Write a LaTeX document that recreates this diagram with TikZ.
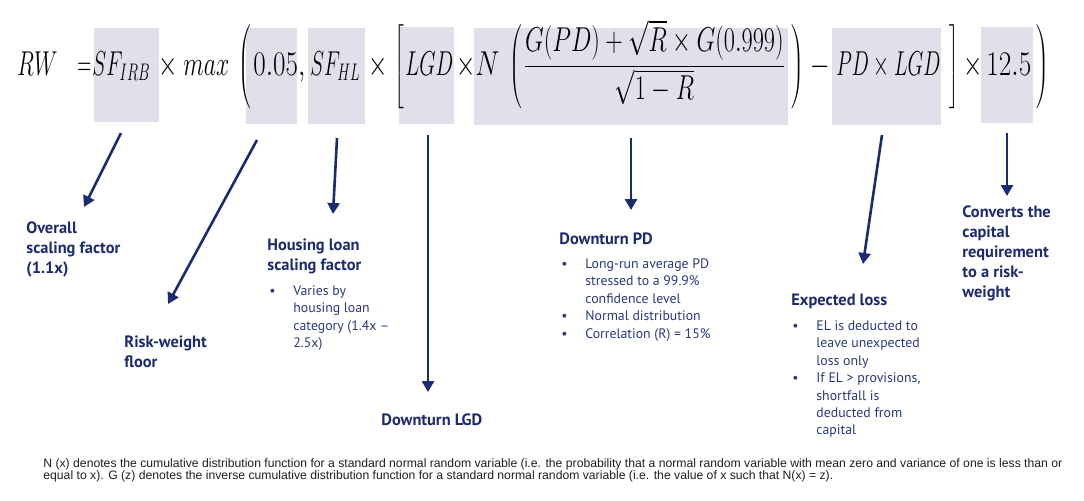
\documentclass[tikz,border=0pt]{standalone}
\usepackage{graphicx}
\usepackage{fontspec}
\newfontfamily\dinfont{PT Sans}
\newfontfamily\notefont{Liberation Sans}
\usetikzlibrary{arrows.meta}
\definecolor{navy}{RGB}{28,42,112}
\definecolor{bodyblue}{RGB}{42,56,128}
\definecolor{hlgrey}{RGB}{224,224,235}
\definecolor{notegrey}{RGB}{30,30,30}
\delimiterfactor=1000
\delimitershortfall=0pt
\newcommand{\fm}[1]{\scalebox{0.72}[1]{$\displaystyle #1$}}
\newcommand{\fmw}[2]{\resizebox{#1}{\height}{$\displaystyle #2$}}
\newcommand{\tallfence}[2]{\left#1\vcenter{\hbox{\rule{0pt}{37pt}}}\right#2}
\tikzset{
  term/.style={anchor=base west, inner sep=0pt, font=\fontsize{17.28}{20}\selectfont},
  head/.style={anchor=north west, inner sep=0pt, text=navy, font=\dinfont\bfseries\fontsize{8.2}{10}\selectfont},
  pts/.style={anchor=north west, inner sep=0pt, text=bodyblue, font=\dinfont\fontsize{6.9}{8.7}\selectfont},
  pointer/.style={draw=navy, line width=1.3pt, -{Triangle[length=5.5pt,width=6pt]}},
  hl/.style={fill=hlgrey}
}
\begin{document}
\begin{tikzpicture}[x=0.5pt,y=-0.5pt]
\useasboundingbox (0,0) rectangle (1084,500);
% shaded terms
\fill[hl] (94,28) rectangle (159,122);
\fill[hl] (246,28) rectangle (297,124);
\fill[hl] (308,28) rectangle (365,124);
\fill[hl] (399,27) rectangle (454,124);
\fill[hl] (474,28) rectangle (788,125);
\fill[hl] (832,28) rectangle (941,125);
\fill[hl] (981,27) rectangle (1033,123);
% the formula
\node[term] (rw) at (17,75) {\fmw{20pt}{RW}};
\node[term] (eq) at (77,75) {\fmw{7pt}{=}};
\node[term] (sfirb) at (92,75) {\fmw{29pt}{SF_{IRB}}};
\node[term] (x1) at (158,75) {\fm{\times}};
\node[term] (max) at (183,75) {\fmw{23pt}{max}};
\node[term] (lp1) at (238,75) {\fm{\tallfence(.}};
\node[term] (floor) at (253,75) {\fmw{26pt}{0.05,}};
\node[term] (sfhl) at (310,75) {\fmw{25pt}{SF_{HL}}};
\node[term] (x2) at (368,75) {\fm{\times}};
\node[term] (lb) at (394,75) {\fm{\tallfence[.}};
\node[term] (lgd) at (405,75) {\fmw{24pt}{LGD}};
\node[term] (x3) at (456,75) {\fm{\times}};
\node[term] (nn) at (475,75) {\fmw{12pt}{N}};
\node[term] (lp2) at (509,75) {\fm{\tallfence(.}};
\node[term] (frac) at (523,75) {\fmw{131pt}{\frac{G(PD)+\sqrt{R}\times G(0.999)}{\sqrt{1-R}}}};
\node[term] (rp2) at (789,75) {\fm{\tallfence.)}};
\node[term] (minus) at (810,75) {\fm{-}};
\node[term] (el) at (836,75) {\fmw{52pt}{PD\times LGD}};
\node[term] (rb) at (947,75) {\fm{\tallfence.]}};
\node[term] (x4) at (963,75) {\fm{\times}};
\node[term] (conv) at (986,75) {\fmw{22.5pt}{12.5}};
\node[term] (rp1) at (1034,75) {\fm{\tallfence.)}};
% arrows
\coordinate (irb-t) at (121,133); \coordinate (irb-h) at (84,207);
\coordinate (floor-t) at (257,140); \coordinate (floor-h) at (168,304);
\coordinate (hl-t) at (337,138); \coordinate (hl-h) at (333,214);
\coordinate (lgd-t) at (428,135); \coordinate (lgd-h) at (428,392);
\coordinate (pd-t) at (631,138); \coordinate (pd-h) at (631,210);
\coordinate (el-t) at (882,135); \coordinate (el-h) at (863,264);
\coordinate (conv-t) at (1007,133); \coordinate (conv-h) at (1007,196);
\draw[pointer] (irb-t) -- (irb-h);
\draw[pointer] (floor-t) -- (floor-h);
\draw[pointer] (hl-t) -- (hl-h);
\draw[pointer] (lgd-t) -- (lgd-h);
\draw[pointer] (pd-t) -- (pd-h);
\draw[pointer] (el-t) -- (el-h);
\draw[pointer] (conv-t) -- (conv-h);
% labels
\node[head] (irb-lab) at (26,219) {\begin{tabular}{@{}l@{}}Overall\\ scaling factor\\ (1.1x)\end{tabular}};
\node[head] (floor-lab) at (124,333) {\begin{tabular}{@{}l@{}}Risk-weight\\ floor\end{tabular}};
\node[head] (hl-lab) at (267,236) {\begin{tabular}{@{}l@{}}Housing loan\\ scaling factor\end{tabular}};
\node[pts] (hl-pts) at (269,283) {\begin{tabular}{@{}p{12pt}@{}l@{}}\textbullet & Varies by\\ & housing loan\\ & category (1.4x –\\ & 2.5x)\end{tabular}};
\node[head] (lgd-lab) at (381,411) {\begin{tabular}{@{}l@{}}Downturn LGD\end{tabular}};
\node[head] (pd-lab) at (559,230) {\begin{tabular}{@{}l@{}}Downturn PD\end{tabular}};
\node[pts] (pd-pts) at (561,256) {\begin{tabular}{@{}p{12pt}@{}l@{}}\textbullet & Long-run average PD\\ & stressed to a 99.9\%\\ & confidence level\\ \textbullet & Normal distribution\\ \textbullet & Correlation (R) = 15\%\end{tabular}};
\node[head] (el-lab) at (791,291) {\begin{tabular}{@{}l@{}}Expected loss\end{tabular}};
\node[pts] (el-pts) at (792,318) {\begin{tabular}{@{}p{12pt}@{}l@{}}\textbullet & EL is deducted to\\ & leave unexpected\\ & loss only\\ \textbullet & If EL > provisions,\\ & shortfall is\\ & deducted from\\ & capital\end{tabular}};
\node[head] (conv-lab) at (962,203) {\begin{tabular}{@{}l@{}}Converts the\\ capital\\ requirement\\ to a risk-\\ weight\end{tabular}};
% footnote
\node[anchor=north west, inner sep=0pt, align=left, text=notegrey, font=\notefont\fontsize{6.1}{6}\selectfont] (note) at (43,458) {N (x) denotes the cumulative distribution function for a standard normal random variable (i.e. the probability that a normal random variable with mean zero and variance of one is less than or\\ equal to x). G (z) denotes the inverse cumulative distribution function for a standard normal random variable (i.e. the value of x such that N(x) = z).};
\end{tikzpicture}
\end{document}
